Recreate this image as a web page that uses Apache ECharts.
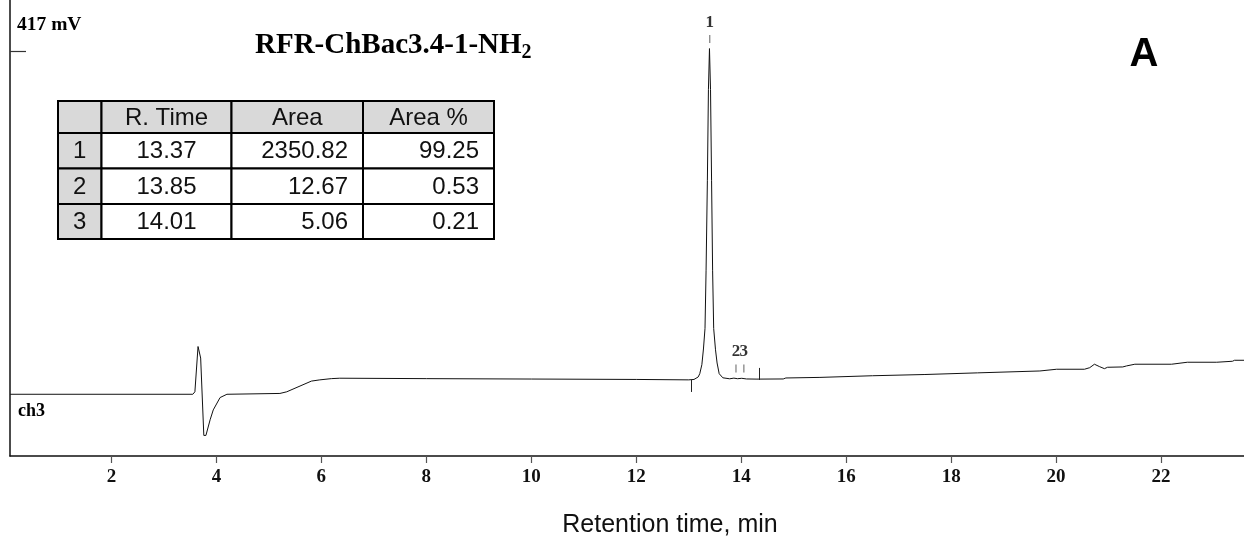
<!DOCTYPE html>
<html><head><meta charset="utf-8">
<script src="https://cdn.jsdelivr.net/npm/echarts@6/dist/echarts.min.js"></script>
<style>html,body{margin:0;padding:0;background:#fff}#c{width:1244px;height:540px}</style>
</head><body><div id="c"></div>
<script>
// ---- data ----
const signalTime = [0.07,3.55,3.59,3.65,3.70,3.76,3.80,3.88,3.94,4.07,4.20,5.21,5.34,5.81,5.97,6.19,6.35,8.0,10.0,12.0,13.0,13.10,13.18,13.21,13.25,13.28,13.31,13.33,13.355,13.375,13.395,13.415,13.435,13.455,13.475,13.51,13.54,13.58,13.65,13.78,13.86,13.93,14.01,14.10,14.30,14.80,14.85,15.5,16.5,17.5,18.5,19.69,20.01,20.54,20.64,20.73,20.83,20.92,20.98,21.27,21.34,21.50,22.20,22.22,22.50,23.06,23.07,23.36,23.40,23.58];
const signalMv   = [0,0,3,58,44,-50,-50,-31,-19,-4,0,1,3,16,17.5,19,19.5,19,18.5,18,17.5,18,21,25,36,55,80,150,260,370,420,370,260,150,80,54,38,25,20,18.8,19.6,18.9,19.4,18.6,18.4,18.6,19.8,20.5,22.5,24,26,28.3,30.4,30.4,32.3,36.5,33.5,31.1,32.8,33.2,34.4,36.5,36.5,37.7,38.9,38.9,40.1,40.1,41.3,41.3];
const xTickValues = [2,4,6,8,10,12,14,16,18,20,22];
const yTickValues = [417];
const yTopLabel = '417 mV';
const channelLabel = 'ch3';
const peakLabels = ['1','2','3'];
const peakMarkTime = [13.40,13.90,14.05];
const peakMarkMv = [431.5,31.3,31.3];
const baselineMarkTime = [13.05,14.35];
const baselineMarkFrom = [17.4,17.4];
const baselineMarkTo = [2.8,32];
const tableHeader = ['', 'R. Time', 'Area', 'Area %'];
const tablePeakNo = ['1','2','3'];
const tableRetTime = ['13.37','13.85','14.01'];
const tableArea = ['2350.82','12.67','5.06'];
const tableAreaPct = ['99.25','0.53','0.21'];
const titleMain = 'RFR-ChBac3.4-1-NH';
const titleSub = '2';
const panelLetter = 'A';
const xAxisName = 'Retention time, min';

// ---- layout ----
const serif = '"Liberation Serif","Times New Roman",serif';
const sans = '"Liberation Sans",Arial,sans-serif';
const colX = [58,101.5,231.5,363,494];
const rowY = [101,133,168.5,204,239];
const graphics = [];
const rows = [tableHeader];
for (let i = 0; i < tablePeakNo.length; i++) rows.push([tablePeakNo[i], tableRetTime[i], tableArea[i], tableAreaPct[i]]);
for (let r = 0; r < rows.length; r++) {
  for (let c = 0; c < 4; c++) {
    const grey = (r === 0 || c === 0);
    graphics.push({type:'rect', shape:{x:colX[c], y:rowY[r], width:colX[c+1]-colX[c], height:rowY[r+1]-rowY[r]},
      style:{fill: grey ? '#d9d9d9' : '#ffffff', stroke:'#000', lineWidth:2}, z:10});
    const txt = rows[r][c];
    if (!txt) continue;
    let align = 'center', x = (colX[c]+colX[c+1])/2;
    if (r > 0 && (c === 2 || c === 3)) { align = 'right'; x = colX[c+1]-15; }
    graphics.push({type:'text', x:x, y:(rowY[r]+rowY[r+1])/2 + 1, z:11,
      style:{text:txt, font:'24px '+sans, fill:'#111', align:align, verticalAlign:'middle', textAlign:align, textVerticalAlign:'middle'}});
  }
}
graphics.push({type:'text', x:255, y:46, z:11, style:{text:'{a|'+titleMain+'}{b|'+titleSub+'}',
  rich:{a:{font:'bold 29px '+serif, fill:'#000', lineHeight:34}, b:{font:'bold 20px '+serif, fill:'#000', verticalAlign:'bottom', lineHeight:34, padding:[10,0,0,0]}},
  verticalAlign:'middle', textVerticalAlign:'middle'}});
graphics.push({type:'text', x:1144, y:55, z:11, style:{text:panelLetter, font:'bold 40px '+sans, fill:'#000', align:'center', verticalAlign:'middle', textAlign:'center', textVerticalAlign:'middle'}});
graphics.push({type:'text', x:17, y:25, z:11, style:{text:yTopLabel, font:'bold 19.5px '+serif, fill:'#000', verticalAlign:'middle', textVerticalAlign:'middle'}});
graphics.push({type:'text', x:18, y:411, z:11, style:{text:channelLabel, font:'bold 18px '+serif, fill:'#000', verticalAlign:'middle', textVerticalAlign:'middle'}});
graphics.push({type:'text', x:670, y:525, z:11, style:{text:xAxisName, font:'25px '+sans, fill:'#111', align:'center', verticalAlign:'middle', textAlign:'center', textVerticalAlign:'middle'}});

const lineData = signalTime.map((t,i)=>[t, signalMv[i]]);
const markData = peakMarkTime.map((t,i)=>[t, peakMarkMv[i]]);
const baseMarks = baselineMarkTime.map((t,i)=>[{coord:[t, baselineMarkFrom[i]]},{coord:[t, baselineMarkTo[i]]}]);

const chart = echarts.init(document.getElementById('c'), null, {renderer:'canvas'});
chart.setOption({
  animation:false,
  backgroundColor:'#fff',
  grid:{left:10, right:0, top:0, bottom:84, containLabel:false},
  xAxis:{type:'value', min:0.067, max:23.58,
    axisLine:{onZero:false, lineStyle:{color:'#111', width:1.5}},
    axisTick:{customValues:xTickValues, length:7, lineStyle:{color:'#555', width:1.2}},
    axisLabel:{customValues:xTickValues, margin:12, color:'#111', fontFamily:serif, fontWeight:'bold', fontSize:19},
    splitLine:{show:false}},
  yAxis:{type:'value', min:-75, max:479,
    axisLine:{show:true, onZero:false, lineStyle:{color:'#111', width:1.5}},
    axisTick:{show:true, inside:true, customValues:yTickValues, length:16, lineStyle:{color:'#333', width:1.2}},
    axisLabel:{show:false}, splitLine:{show:false}},
  graphic:{elements:graphics},
  series:[
    {type:'line', data:lineData, showSymbol:false, symbol:'none', lineStyle:{color:'#111', width:1}, clip:true,
      markLine:{silent:true, symbol:'none', label:{show:false}, lineStyle:{color:'#222', width:1, type:'solid'}, data:baseMarks}},
    {type:'scatter', data:markData, symbol:'rect', symbolSize:[1.3,8], itemStyle:{color:'#666'},
      label:{show:true, position:'top', distance:4, formatter:p=>peakLabels[p.dataIndex], color:'#000', fontFamily:serif, fontWeight:'bold', fontSize:17}}
  ]
});
</script></body></html>
